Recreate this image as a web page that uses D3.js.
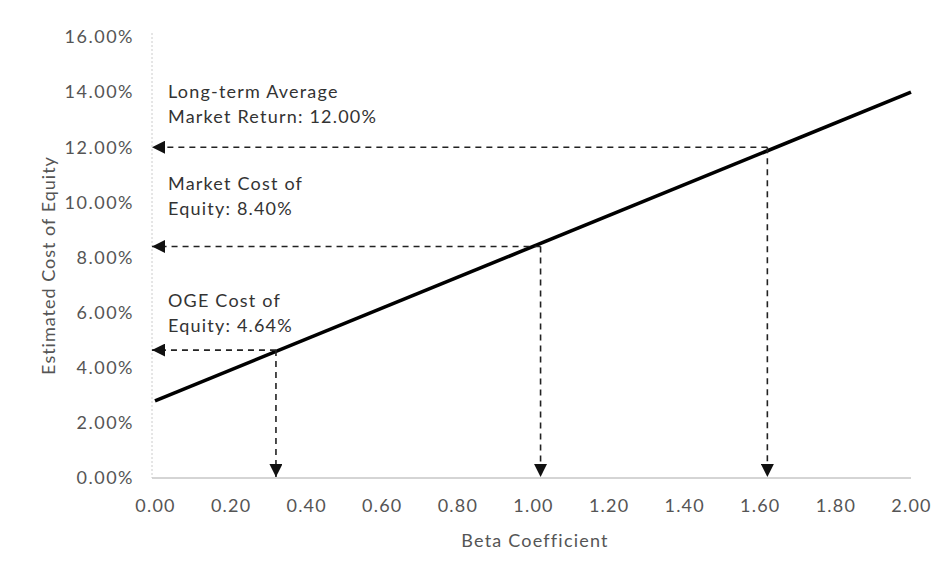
<!DOCTYPE html>
<html>
<head>
<meta charset="utf-8">
<script src="https://cdn.jsdelivr.net/npm/d3@7/dist/d3.min.js"></script>
<style>
  html, body { margin: 0; padding: 0; background: #fff; }
  svg { display: block; }
  text { font-family: Lato, "Open Sans", sans-serif; }
</style>
</head>
<body>
<svg id="chart" width="945" height="587"></svg>
<script>
// Security market line: cost of equity vs. beta
const betaRange = [0, 2];
const costRange = [0, 16];
const xTicks = [0, 0.2, 0.4, 0.6, 0.8, 1.0, 1.2, 1.4, 1.6, 1.8, 2.0];
const yTicks = [0, 2, 4, 6, 8, 10, 12, 14, 16];

// Line end points (beta, cost of equity %)
const lineBeta = [0, 2];
const lineCost = [2.8, 14.0];

// Annotated points: beta, cost of equity %, label lines
const markBeta = [0.32, 1.02, 1.62];
const markCost = [4.64, 8.40, 12.00];
const markLabels = [
  ["OGE Cost of", "Equity: 4.64%"],
  ["Market Cost of", "Equity: 8.40%"],
  ["Long-term Average", "Market Return: 12.00%"]
];
// Label anchor heights (in cost-of-equity units)
const labelCost = [6.2, 10.45, 13.8];

const svg = d3.select("#chart");
const x = d3.scaleLinear().domain(betaRange).range([155, 911]);
const y = d3.scaleLinear().domain(costRange).range([478, 37]);

// Arrowhead markers
const defs = svg.append("defs");
defs.append("marker")
  .attr("id", "head")
  .attr("viewBox", "0 0 10 10")
  .attr("refX", 10).attr("refY", 5)
  .attr("markerWidth", 15).attr("markerHeight", 13)
  .attr("markerUnits", "userSpaceOnUse")
  .attr("orient", "auto")
  .append("path")
  .attr("d", "M0,0 L10,5 L0,10 Z")
  .attr("fill", "#111");

// Axes
const xAxis = d3.axisBottom(x).tickValues(xTicks).tickFormat(d3.format(".2f")).tickSize(0).tickPadding(21);
const yAxis = d3.axisLeft(y).tickValues(yTicks).tickFormat(d => d.toFixed(2) + "%").tickSize(0).tickPadding(18);

const gx = svg.append("g").attr("transform", `translate(0,${y(0)})`).call(xAxis);
gx.select(".domain").attr("stroke", "#aaa").attr("stroke-width", 1).attr("d", `M${x(0) - 3},0H${x(2)}`);
gx.selectAll("text").attr("font-size", 18).attr("letter-spacing", 1.2).attr("fill", "#555").attr("dy", "0.71em");

const gy = svg.append("g").attr("transform", `translate(${x(0) - 3},0)`).call(yAxis);
gy.select(".domain").attr("stroke", "#ccc").attr("stroke-width", 1).attr("stroke-dasharray", "2,2")
  .attr("d", `M0,${y(16) - 4}V${y(0)}`);
gy.selectAll("text").attr("font-size", 18).attr("letter-spacing", 1.5).attr("fill", "#555");

// Axis titles
svg.append("text")
  .attr("x", (x(0) + x(2)) / 2 + 2).attr("y", 547)
  .attr("text-anchor", "middle").attr("font-size", 18).attr("letter-spacing", 1.2).attr("fill", "#555")
  .text("Beta Coefficient");
svg.append("text")
  .attr("transform", `translate(55,${(y(0) + y(16)) / 2 + 8}) rotate(-90)`)
  .attr("text-anchor", "middle").attr("font-size", 18).attr("fill", "#555")
  .attr("letter-spacing", 1)
  .text("Estimated Cost of Equity");

// Security market line
svg.append("line")
  .attr("x1", x(lineBeta[0])).attr("y1", y(lineCost[0]))
  .attr("x2", x(lineBeta[1])).attr("y2", y(lineCost[1]))
  .attr("stroke", "#000").attr("stroke-width", 3.6);

// Dashed arrows to each axis
markBeta.forEach((b, i) => {
  const c = markCost[i];
  svg.append("line")
    .attr("x1", x(b)).attr("y1", y(c))
    .attr("x2", x(0) - 3).attr("y2", y(c))
    .attr("stroke", "#222").attr("stroke-width", 1.6)
    .attr("stroke-dasharray", "6,5")
    .attr("marker-end", "url(#head)");
  svg.append("line")
    .attr("x1", x(b)).attr("y1", y(c))
    .attr("x2", x(b)).attr("y2", y(0) - 1)
    .attr("stroke", "#222").attr("stroke-width", 1.6)
    .attr("stroke-dasharray", "6,5")
    .attr("marker-end", "url(#head)");
});

// Annotation labels
markLabels.forEach((lines, i) => {
  const t = svg.append("text")
    .attr("x", 168).attr("y", y(labelCost[i]))
    .attr("font-size", 18).attr("letter-spacing", 1.2).attr("fill", "#333");
  lines.forEach((s, j) => {
    t.append("tspan").attr("x", 168).attr("dy", j === 0 ? 0 : 25).text(s);
  });
});
</script>
</body>
</html>
